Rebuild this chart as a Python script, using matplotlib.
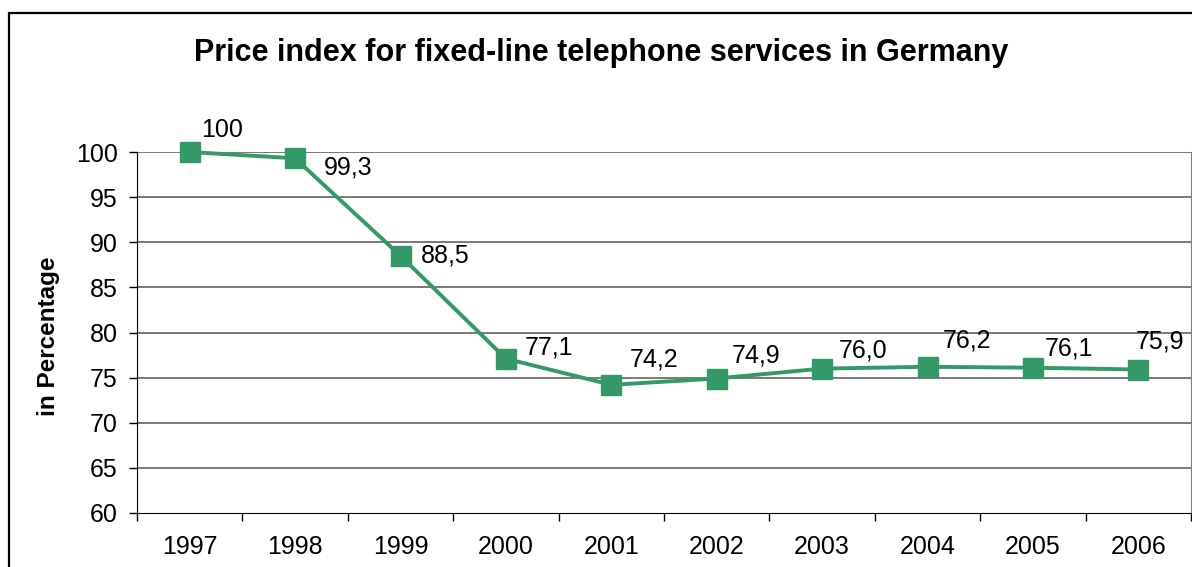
import matplotlib
matplotlib.use("Agg")
import matplotlib.pyplot as plt
from matplotlib.patches import Rectangle
import numpy as np

plt.rcParams["font.family"] = ["Liberation Sans", "DejaVu Sans"]

years = ["1997", "1998", "1999", "2000", "2001", "2002", "2003", "2004", "2005", "2006"]
index = [100, 99.3, 88.5, 77.1, 74.2, 74.9, 76.0, 76.2, 76.1, 75.9]
value_labels = ["100", "99,3", "88,5", "77,1", "74,2", "74,9", "76,0", "76,2", "76,1", "75,9"]
y_ticks = [60, 65, 70, 75, 80, 85, 90, 95, 100]

# where each value label sits relative to its marker (pixels)
label_offsets = [(32, 22), (53, -9), (45, 0), (43, 11), (43, 25),
                 (39, 23), (41, 18), (39, 26), (36, 19), (22, 28)]

green = "#339966"
grid_col = "#555555"

fig = plt.figure(figsize=(11.92, 5.67), dpi=100)
ax = fig.add_axes([137 / 1192, 1 - 513 / 567, (1191 - 137) / 1192, (513 - 152) / 567])

# outer chart frame, cut off at the right and bottom edges
fig.patches.append(Rectangle((9 / 1192, -0.1), 1.2, 1 - 12.5 / 567 + 0.1,
                             transform=fig.transFigure, fill=False,
                             edgecolor="black", linewidth=1.6))

x = np.arange(len(years))
ax.plot(x, index, color=green, lw=2.8, marker="s", markersize=14,
        markeredgecolor=green, clip_on=False, zorder=3)

for xi, yi, txt, (dx, dy) in zip(x, index, value_labels, label_offsets):
    ax.annotate(txt, (xi, yi), xytext=(dx, dy), textcoords="offset pixels",
                ha="center", va="center", fontsize=18, color="black",
                annotation_clip=False)

ax.set_xlim(-0.5, len(years) - 0.5)
ax.set_ylim(60, 100)
ax.set_yticks(y_ticks)
ax.set_yticklabels([str(v) for v in y_ticks], fontsize=18)
ax.set_xticks(x)
ax.set_xticklabels(years, fontsize=18)
ax.set_xticks(np.arange(-0.5, len(years)), minor=True)

ax.tick_params(axis="y", direction="out", length=6, width=1, pad=8, color="black")
ax.tick_params(axis="x", which="major", length=0, pad=16)
ax.tick_params(axis="x", which="minor", direction="out", length=6, width=1, color="black")

for v in y_ticks[1:]:
    ax.axhline(v, color=grid_col, lw=1.1, zorder=1)

ax.spines["top"].set_visible(False)
ax.spines["right"].set_color("#808080")
ax.spines["left"].set_color("black")
ax.spines["bottom"].set_color("black")

ax.set_ylabel("in Percentage", fontsize=17.5, fontweight="bold")
ax.yaxis.set_label_coords(-(137 - 60) / (1191 - 137), (513 - 336) / (513 - 152))

fig.text(601 / 1192, 1 - 53 / 567, "Price index for fixed-line telephone services in Germany",
         ha="center", va="center", fontsize=22, fontweight="bold")

fig.savefig("out.png", dpi=100)
